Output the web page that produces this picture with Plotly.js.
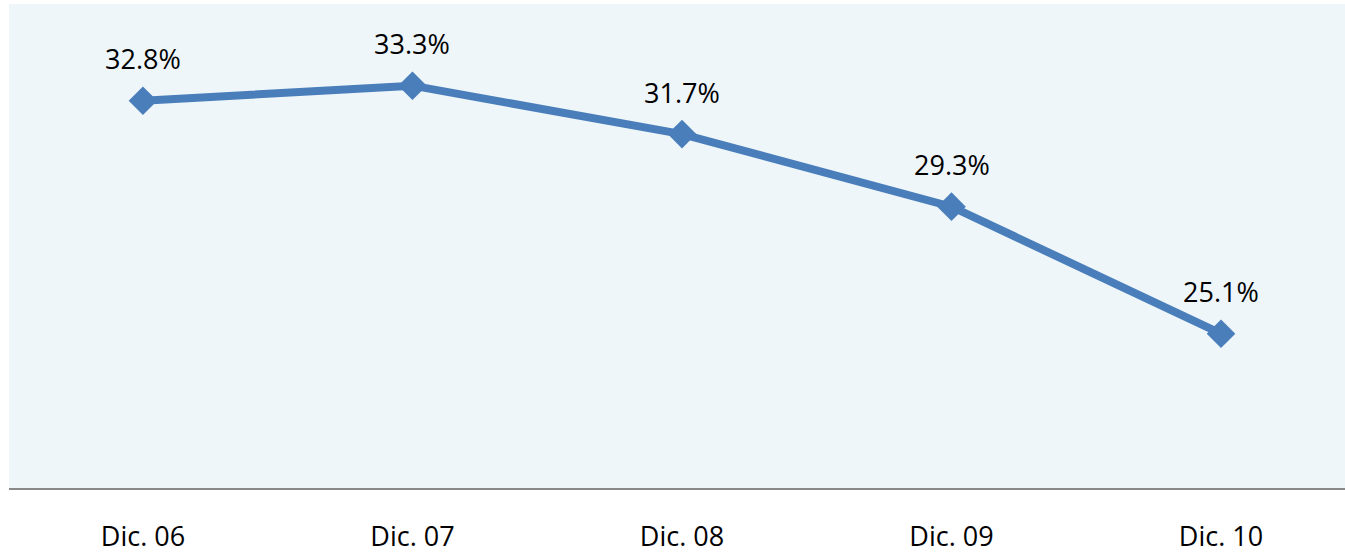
<!DOCTYPE html>
<html>
<head>
<meta charset="utf-8">
<script src="https://cdn.plot.ly/plotly-3.0.1.min.js"></script>
<style>
  html, body { margin: 0; padding: 0; background: #ffffff; }
  #chart { width: 1345px; height: 554px; }
</style>
</head>
<body>
<div id="chart"></div>
<script>
// Chart data
const periods = ['Dic. 06', 'Dic. 07', 'Dic. 08', 'Dic. 09', 'Dic. 10'];
const shares = [32.8, 33.3, 31.7, 29.3, 25.1];

const lineColor = '#4a7ebb';
const labelFont = { family: 'Open Sans, sans-serif', size: 27, color: '#000000' };

const trace = {
  x: periods,
  y: shares,
  type: 'scatter',
  mode: 'lines+markers',
  line: { color: lineColor, width: 8 },
  marker: { symbol: 'diamond', size: 22, color: lineColor },
  hoverinfo: 'skip'
};

// value labels above each point
const labels = periods.map((p, i) => ({
  x: p,
  y: shares[i],
  text: shares[i].toFixed(1) + '%',
  showarrow: false,
  yshift: 42,
  font: labelFont
}));

const layout = {
  width: 1345,
  height: 554,
  margin: { l: 9, r: 0, t: 4, b: 66 },
  paper_bgcolor: '#ffffff',
  plot_bgcolor: '#eef6fa',
  showlegend: false,
  xaxis: {
    type: 'category',
    range: [-0.497, 4.46],
    showgrid: false,
    zeroline: false,
    showline: true,
    linecolor: '#888888',
    linewidth: 2,
    ticks: '',
    ticklabelstandoff: 24,
    tickfont: labelFont
  },
  yaxis: {
    range: [20, 36],
    showgrid: false,
    zeroline: false,
    showline: false,
    showticklabels: false,
    ticks: ''
  },
  annotations: labels
};

Plotly.newPlot('chart', [trace], layout, { staticPlot: true });
</script>
</body>
</html>
